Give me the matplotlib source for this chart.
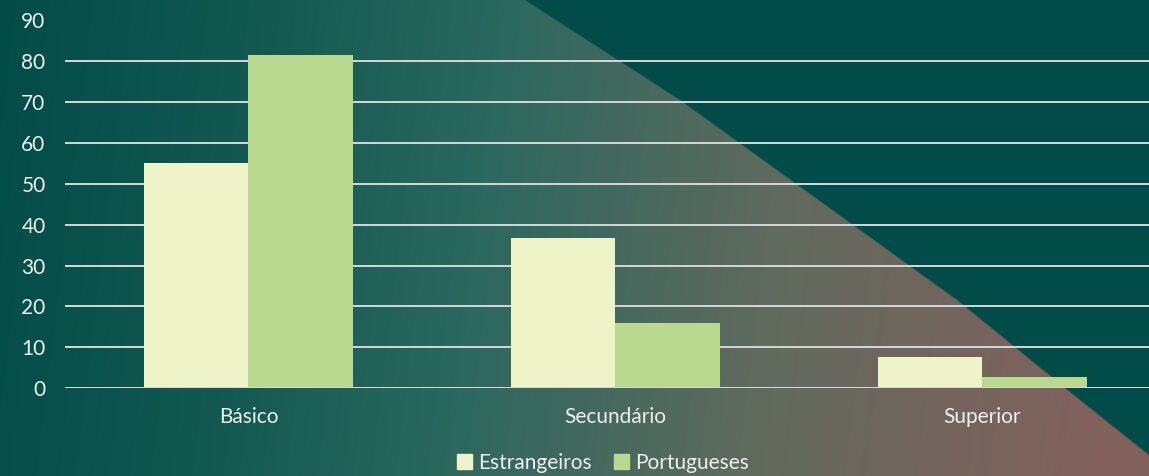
import numpy as np
import matplotlib
matplotlib.use("Agg")
import matplotlib.pyplot as plt
from matplotlib.patches import Patch

plt.rcParams['font.family'] = ['Lato', 'DejaVu Sans']

categories = ["Básico", "Secundário", "Superior"]
estrangeiros = [55.0, 36.8, 7.6]
portugueses = [81.5, 15.9, 2.7]
series_names = ["Estrangeiros", "Portugueses"]
yticks = [0, 10, 20, 30, 40, 50, 60, 70, 80, 90]

W, H = 1149, 476
fig = plt.figure(figsize=(W / 100, H / 100), dpi=100)

# ---- background ----
bg = fig.add_axes([0, 0, 1, 1], zorder=-10)
bg.set_axis_off()
xx, yy = np.meshgrid(np.arange(W) + 0.5, np.arange(H) + 0.5)
base = np.array([1, 75, 72]) / 255.0
stops_x = [0, 250, 500, 800, 1149]
stops_c = np.array([[2, 76, 72], [17, 88, 80], [42, 104, 94], [96, 106, 94], [130, 97, 93]]) / 255.0
g = np.stack([np.interp(xx + 0.12 * yy, stops_x, stops_c[:, k]) for k in range(3)], axis=-1)
edge_y = [0, 100, 300, 400, 455, 600]
edge_x = [525, 680, 957, 1080, 1149, 1300]
ex = np.interp(yy, edge_y, edge_x)
m = np.clip((ex - xx) / 3.0 + 0.5, 0, 1)[..., None]
img = g * m + base * (1 - m)
bg.imshow(img, extent=[0, W, H, 0], aspect='auto', interpolation='bilinear')
bg.set_xlim(0, W)
bg.set_ylim(H, 0)

# ---- chart ----
left = 65 / W
bottom = (H - 388) / H
top = (H - 20.5) / H
ax = fig.add_axes([left, bottom, 1 - left, top - bottom])
ax.patch.set_alpha(0)
x = np.arange(len(categories))
bw = 0.286
ax.bar(x - bw / 2, estrangeiros, width=bw, color="#eef3c8", zorder=3)
ax.bar(x + bw / 2, portugueses, width=bw, color="#b9d98e", zorder=3)
ax.set_xlim(-0.5, -0.5 + (W - 65) / 367.0)
ax.set_ylim(0, 90)
ax.set_yticks(yticks)
ax.set_xticks(x)
ax.set_xticklabels(categories)
for s in ax.spines.values():
    s.set_visible(False)
ax.yaxis.grid(True, color="#d6d8d8", linewidth=1.4, zorder=1)
ax.xaxis.grid(False)
ax.set_axisbelow(True)
ax.tick_params(axis='both', length=0, labelcolor="#eef0ee", labelsize=15)
ax.tick_params(axis='y', pad=14)
ax.tick_params(axis='x', pad=14)
ax.axhline(0, color="#d6d8d8", linewidth=1.4, zorder=4)

handles = [Patch(color="#eef3c8", label=series_names[0]),
           Patch(color="#b9d98e", label=series_names[1])]
fig.legend(handles=handles, loc='center', bbox_to_anchor=(603 / W, (H - 463) / H),
           ncol=2, frameon=False, fontsize=15, labelcolor="#eef0ee",
           handlelength=0.7, handleheight=0.7, handletextpad=0.3, columnspacing=1.1,
           borderaxespad=0, borderpad=0)

fig.savefig("out.png", dpi=100)
